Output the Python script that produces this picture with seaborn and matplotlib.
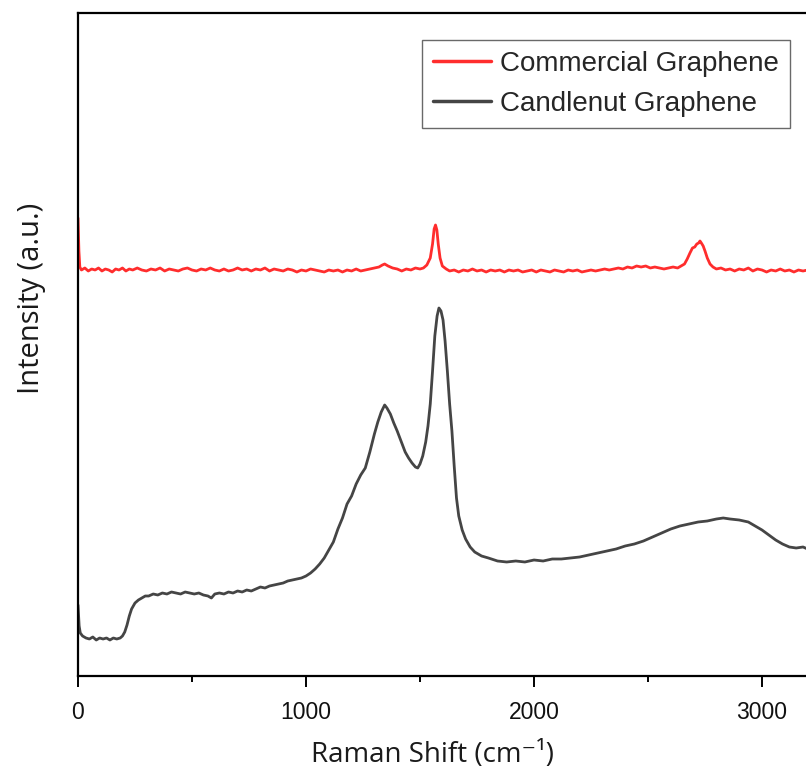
import numpy as np
import pandas as pd
import matplotlib
matplotlib.use("Agg")
import matplotlib.pyplot as plt
import seaborn as sns
from matplotlib.ticker import MultipleLocator

# ---------------- data ----------------
commercial_shift = [
    0, 4, 8, 15, 30, 45, 60, 75, 90, 105,
    120, 135, 150, 165, 180, 195, 210, 225, 240, 260,
    280, 300, 320, 340, 360, 380, 400, 420, 440, 460,
    480, 500, 520, 540, 560, 580, 600, 620, 640, 660,
    680, 700, 720, 740, 760, 780, 800, 820, 840, 860,
    880, 900, 920, 940, 960, 980, 1000, 1020, 1040, 1060,
    1080, 1100, 1120, 1140, 1160, 1180, 1200, 1220, 1240, 1260,
    1280, 1300, 1320, 1335, 1345, 1360, 1380, 1400, 1420, 1440,
    1460, 1480, 1500, 1515, 1530, 1545, 1555, 1562, 1568, 1574,
    1580, 1588, 1598, 1615, 1630, 1650, 1670, 1690, 1710, 1730,
    1750, 1770, 1790, 1810, 1830, 1850, 1870, 1890, 1910, 1930,
    1950, 1970, 1990, 2010, 2030, 2050, 2070, 2090, 2110, 2130,
    2150, 2170, 2190, 2210, 2230, 2250, 2270, 2290, 2310, 2330,
    2350, 2370, 2390, 2410, 2430, 2450, 2470, 2490, 2510, 2530,
    2550, 2570, 2590, 2610, 2630, 2645, 2660, 2672, 2684, 2695,
    2705, 2714, 2722, 2728, 2734, 2742, 2750, 2760, 2772, 2785,
    2800, 2820, 2840, 2860, 2880, 2900, 2920, 2940, 2960, 2980,
    3000, 3020, 3040, 3060, 3080, 3100, 3120, 3140, 3160, 3180,
    3200]
commercial_int = [
    458, 425, 409, 406, 408, 405, 407, 406, 408, 405,
    407, 406, 404, 407, 406, 408, 405, 407, 406, 408,
    406, 405, 407, 406, 408, 405, 407, 406, 405, 407,
    408, 406, 405, 407, 406, 408, 406, 405, 407, 405,
    406, 408, 406, 407, 405, 407, 406, 408, 405, 407,
    406, 405, 407, 406, 404, 406, 405, 407, 406, 405,
    404, 406, 405, 406, 404, 406, 405, 407, 405, 406,
    407, 408, 409, 411, 412, 410, 408, 407, 405, 407,
    406, 408, 407, 408, 411, 418, 432, 447, 451, 446,
    432, 418, 410, 407, 405, 406, 404, 406, 405, 407,
    405, 406, 404, 406, 405, 406, 404, 406, 405, 406,
    404, 405, 406, 404, 406, 405, 404, 406, 405, 404,
    406, 405, 406, 404, 405, 406, 405, 406, 407, 406,
    407, 408, 407, 409, 408, 410, 409, 410, 408, 409,
    408, 407, 408, 409, 408, 410, 412, 417, 423, 428,
    429, 432, 433, 435, 433, 430, 425, 418, 412, 409,
    407, 408, 406, 407, 405, 407, 406, 408, 405, 407,
    406, 404, 406, 405, 407, 405, 406, 404, 406, 405,
    406]

candlenut_shift = [0, 5, 10, 20, 35, 50, 65, 80, 95, 110, 125, 140, 155, 170, 185, 195,
                   205, 215, 225, 235, 250, 265, 280, 295, 310, 330, 350, 370, 390, 410,
                   430, 450, 470, 490, 510, 530, 550, 570, 585, 600, 620, 640, 660, 680,
                   700, 720, 740, 760, 780, 800, 820, 840, 860, 880, 900, 920, 940, 960,
                   980, 1000, 1020, 1040, 1060, 1080, 1100, 1120, 1140, 1160, 1180, 1200,
                   1220, 1240, 1260, 1280, 1300, 1315, 1330, 1345, 1355, 1370, 1385, 1400,
                   1420, 1435, 1450, 1465, 1480, 1490, 1500, 1512, 1525, 1535, 1545, 1555,
                   1565, 1575, 1583, 1592, 1601, 1610, 1620, 1630, 1640, 1650, 1660, 1670,
                   1685, 1700, 1720, 1740, 1770, 1800, 1840, 1880, 1920, 1960, 2000, 2040,
                   2080, 2120, 2160, 2200, 2240, 2280, 2320, 2360, 2400, 2440, 2480, 2520,
                   2560, 2600, 2640, 2680, 2720, 2760, 2800, 2830, 2860, 2900, 2940, 2970,
                   3000, 3030, 3060, 3090, 3120, 3150, 3180, 3200]
candlenut_int = [71, 50, 43, 40, 38, 37, 39, 36, 38, 37, 38, 36, 38, 37, 38, 40, 44, 51,
                 60, 67, 73, 76, 78, 80, 80, 82, 81, 83, 82, 84, 83, 82, 84, 83, 82, 83,
                 81, 80, 78, 82, 83, 82, 84, 83, 85, 84, 86, 85, 87, 89, 88, 90, 91, 92,
                 93, 95, 96, 97, 98, 100, 103, 107, 112, 118, 126, 134, 147, 158, 172,
                 180, 192, 201, 208, 224, 242, 254, 264, 271, 268, 262, 253, 245, 233,
                 224, 218, 213, 209, 208, 212, 220, 234, 250, 272, 305, 340, 360, 368,
                 365, 356, 335, 305, 272, 245, 210, 178, 160, 146, 137, 129, 124, 120,
                 118, 115, 114, 115, 114, 116, 115, 117, 117, 118, 119, 121, 123, 125,
                 127, 130, 132, 135, 139, 143, 147, 150, 152, 154, 155, 157, 158, 157,
                 156, 154, 150, 146, 141, 136, 132, 129, 128, 129, 127]

series_labels = ["Commercial Graphene", "Candlenut Graphene"]
x_ticks = [0, 1000, 2000, 3000]

df = pd.concat([
    pd.DataFrame({"shift": commercial_shift, "intensity": commercial_int,
                  "sample": series_labels[0]}),
    pd.DataFrame({"shift": candlenut_shift, "intensity": candlenut_int,
                  "sample": series_labels[1]}),
])

# ---------------- style ----------------
sns.set_theme(style="white")
plt.rcParams["font.family"] = ["Liberation Sans", "DejaVu Sans"]

fig = plt.figure(figsize=(8.06, 7.69), dpi=100)
W, H = 806, 769
ax = fig.add_axes([78 / W, (H - 676) / H, 729.6 / W, 663 / H])

sns.lineplot(data=df, x="shift", y="intensity", hue="sample",
             hue_order=series_labels,
             palette={series_labels[0]: "#ff2d2d", series_labels[1]: "#454545"},
             linewidth=2.0, ax=ax, sort=False, estimator=None)

ax.set_xlim(0, 3200)
ax.set_ylim(0, 663)
ax.set_yticks([])
ax.xaxis.set_minor_locator(MultipleLocator(500))
ax.set_xticks(x_ticks)
ax.tick_params(axis="x", which="major", direction="out", length=8, width=1.4,
               labelsize=16.5, pad=10, bottom=True, color="black", labelcolor="#111111")
ax.tick_params(axis="x", which="minor", direction="out", length=4.5, width=1.4,
               bottom=True, color="black")

for s in ["left", "bottom", "top"]:
    ax.spines[s].set_visible(True)
    ax.spines[s].set_color("black")
    ax.spines[s].set_linewidth(1.6)
ax.spines["right"].set_visible(False)

ax.set_xlabel("Raman Shift (cm⁻¹)", fontsize=20,
              family=["Open Sans", "DejaVu Sans"], color="#1a1a1a")
ax.set_ylabel("Intensity (a.u.)", fontsize=21,
              family=["Open Sans", "DejaVu Sans"], color="#1a1a1a")
ax.xaxis.set_label_coords((432 - 78) / 729.6, (676 - 741) / 663)
ax.yaxis.set_label_coords((46 - 78) / 729.6, (676 - 298) / 663)

leg = ax.legend(loc="upper right", bbox_to_anchor=((790 - 78) / 729.6, (676 - 40) / 663),
                borderaxespad=0, fontsize=20, frameon=True, fancybox=False,
                edgecolor="#444444", handlelength=2.1, handletextpad=0.32,
                borderpad=0.4, labelspacing=0.5, title=None)
leg.get_frame().set_linewidth(1.0)
for line in leg.get_lines():
    line.set_linewidth(2.5)

fig.savefig("out.png", dpi=100)
